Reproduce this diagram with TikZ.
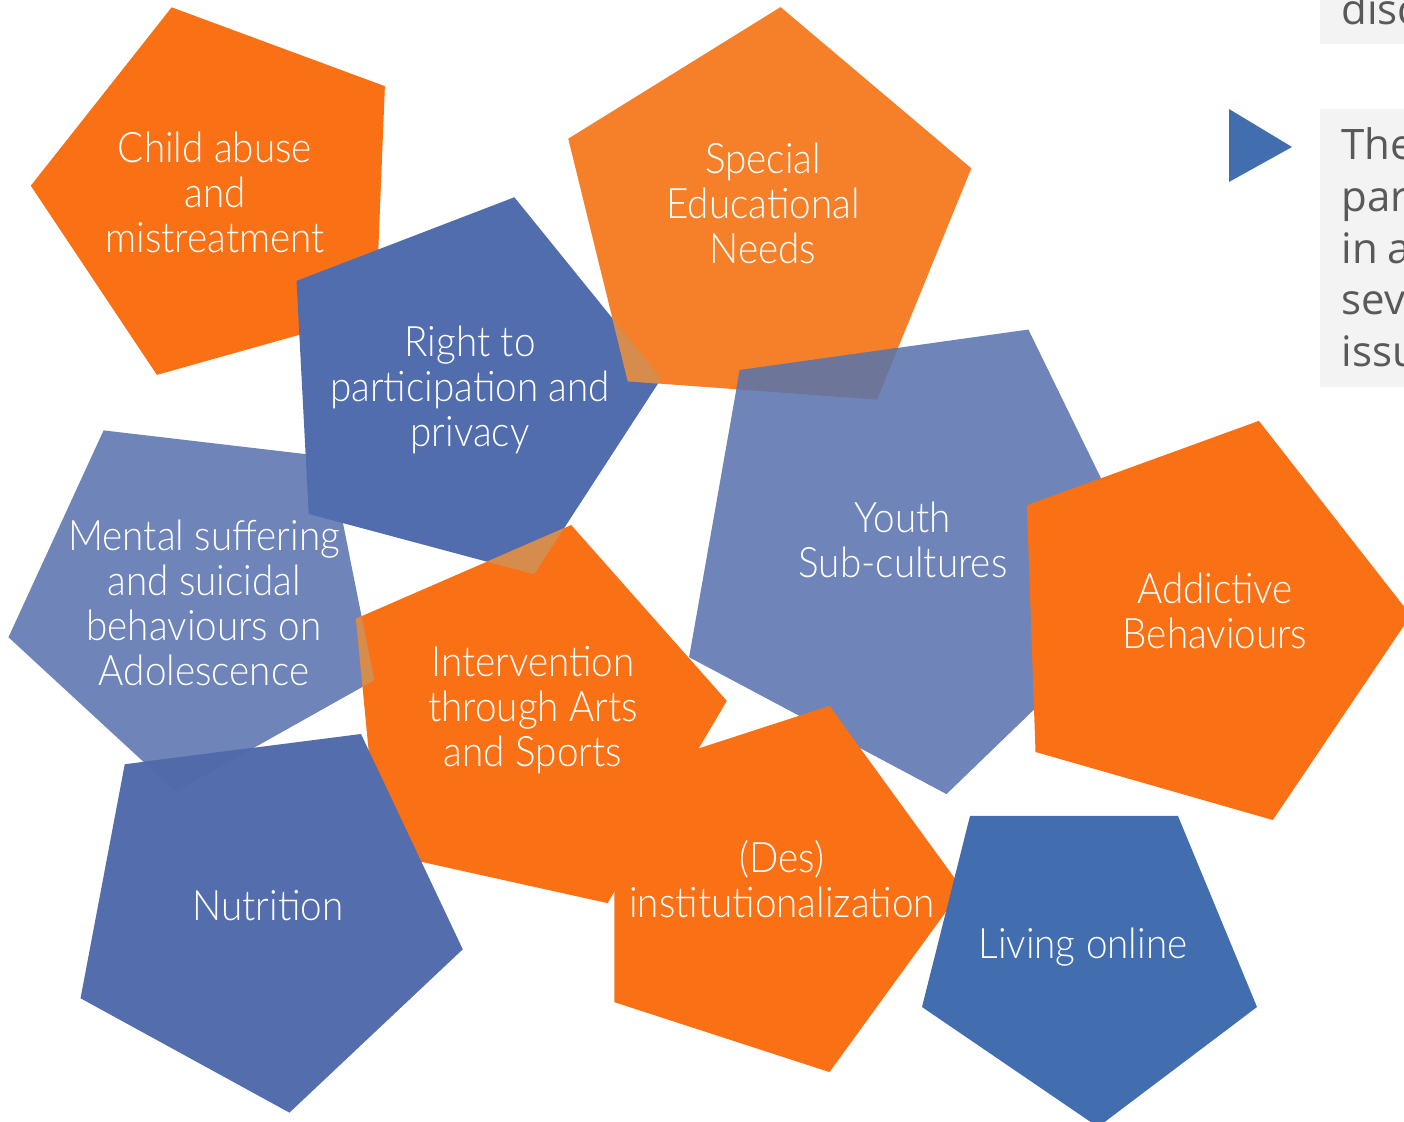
\documentclass[tikz,border=0pt]{standalone}
\usepackage{fontspec}
\newfontfamily\pfont{Lato Light}[FakeStretch=0.92]
\newfontfamily\sfont{Open Sans}
\definecolor{oran}{HTML}{FA7014}
\definecolor{senor}{HTML}{F58029}
\definecolor{rtblue}{HTML}{516DAE}
\definecolor{ltblue}{HTML}{6F85B9}
\definecolor{nublue}{HTML}{536DAD}
\definecolor{lvblue}{HTML}{426EB0}
\definecolor{tanc}{HTML}{D68C4C}
\definecolor{ysen}{HTML}{6D7599}
\definecolor{numix}{HTML}{516BAA}
\definecolor{boxg}{HTML}{F3F3F3}
\definecolor{txtg}{HTML}{595959}
\newcommand\pg[4]{[shift={(#1,#2)}] (#4:#3) -- (#4+72:#3) -- (#4+144:#3) -- (#4+216:#3) -- (#4+288:#3) -- cycle}
\begin{document}
\begin{tikzpicture}[x=0.5pt,y=-0.5pt,
  lbl/.style={text=white, align=center, inner sep=0pt, font=\pfont\fontsize{21}{22.5}\selectfont},
  rtxt/.style={text=txtg, inner sep=0pt, anchor=base west, font=\sfont\fontsize{21}{26}\selectfont}]
\useasboundingbox (0,0) rectangle (1404,1122);
\clip (0,0) rectangle (1404,1122);
% pentagons
\fill[oran] \pg{224}{193.5}{193.4}{-33.7};      % child abuse
\fill[ltblue] \pg{198.4}{599.3}{193.7}{24.7};   % mental
\fill[rtblue] \pg{463}{389}{198.5}{-3};         % right to
\fill[senor] \pg{765}{219}{212.5}{-13.8};       % SEN
\begin{scope}
  \clip \pg{765}{219}{212.5}{-13.8};
  \fill[tanc] \pg{463}{389}{198.5}{-3};
\end{scope}
\fill[ltblue] \pg{912}{548.5}{248}{-62};        % youth
\begin{scope}
  \clip \pg{912}{548.5}{248}{-62};
  \fill[ysen] \pg{765}{219}{212.5}{-13.8};
\end{scope}
\fill[oran] \pg{1201}{622.7}{210}{-2};          % addictive
\fill[oran] \pg{528}{720}{199.7}{-5.5};         % intervention
\begin{scope}
  \clip \pg{528}{720}{199.7}{-5.5};
  \fill[tanc] \pg{463}{389}{198.5}{-3};
  \fill[tanc] \pg{198.4}{599.3}{193.7}{24.7};
\end{scope}
\fill[nublue] \pg{263.7}{911.7}{202.6}{10.7};   % nutrition
\begin{scope}
  \clip \pg{263.7}{911.7}{202.6}{10.7};
  \fill[numix] \pg{198.4}{599.3}{193.7}{24.7};
\end{scope}
\fill[oran] \pg{770}{889}{192.5}{0};            % des
\fill[lvblue] (970,816) -- (1178,816) -- (1257,1007) -- (1098,1127) -- (922,1007) -- cycle; % living
% labels
\node[lbl] (child) at (215,192) {Child abuse\\and\\mistreatment};
\node[lbl] (sen) at (763,203) {Special\\Educational\\Needs};
\node[lbl] (right) at (470,390) {Right to\\participation and\\privacy};
\node[lbl] (mental) at (204,603) {Mental suffering\\and suicidal\\behaviours on\\Adolescence};
\node[lbl] (youth) at (903,540) {Youth\\Sub-cultures};
\node[lbl] (addict) at (1215,611) {Addictive\\Behaviours};
\node[lbl] (interv) at (533,710) {Intervention\\through Arts\\and Sports};
\node[lbl] (nutri) at (268,906) {Nutrition};
\node[lbl] (des) at (782,879) {(Des)\\institutionalization};
\node[lbl] (living) at (1083,947) {Living online};
% right panel
\fill[boxg] (1320,-5) rectangle (1410,44);
\fill[boxg] (1320,109) rectangle (1410,387);
\fill[lvblue] (1229,109) -- (1292,147) -- (1229,182) -- cycle;
\node[rtxt] (t0) at (1341,25) {disc};
\node[rtxt] (t1) at (1341,160) {The};
\node[rtxt] (t2) at (1341,211.7) {part};
\node[rtxt] (t3) at (1341,263.3) {in\hspace{5pt}a};
\node[rtxt] (t4) at (1341,315) {seve};
\node[rtxt] (t5) at (1341,366.7) {issu};
\end{tikzpicture}
\end{document}
